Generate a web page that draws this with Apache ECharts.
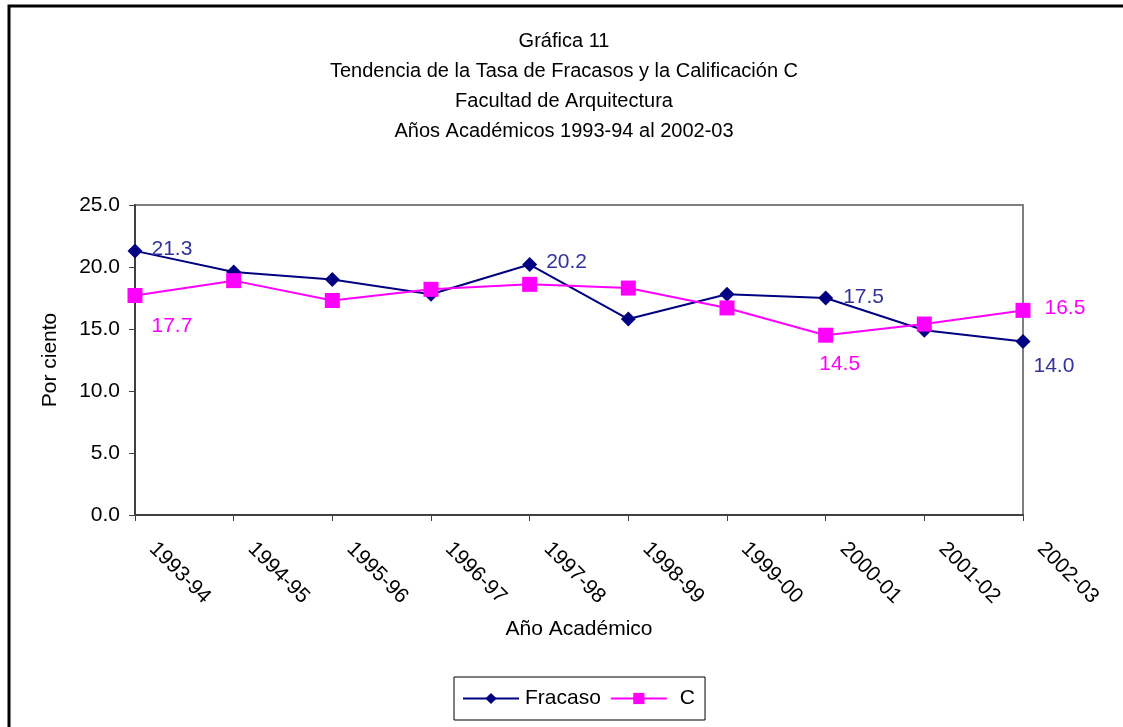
<!DOCTYPE html>
<html>
<head>
<meta charset="utf-8">
<script src="https://cdn.jsdelivr.net/npm/echarts@6/dist/echarts.min.js"></script>
<style>
  html, body { margin: 0; padding: 0; background: #fff; }
  #chart { width: 1123px; height: 727px; }
</style>
</head>
<body>
<div id="chart"></div>
<script>
// data
var years = ['1993-94', '1994-95', '1995-96', '1996-97', '1997-98', '1998-99', '1999-00', '2000-01', '2001-02', '2002-03'];
var fracaso = [21.3, 19.6, 19.0, 17.8, 20.2, 15.8, 17.8, 17.5, 14.9, 14.0];
var califC = [17.7, 18.9, 17.3, 18.2, 18.6, 18.3, 16.7, 14.5, 15.4, 16.5];
var yTicks = [0, 5, 10, 15, 20, 25];

var FONT = '"Liberation Sans", Arial, sans-serif';
var NAVY = '#000080';
var NAVY_LBL = '#333399';
var PINK = '#ff00ff';
var FS = 21;

// which points carry a value label, and where
var fracasoLabels = { 0: { position: 'right', offset: [4, -2] }, 4: { position: 'right', offset: [4, -2] },
                      7: { position: 'right', offset: [5, -1] }, 9: { position: 'right', offset: [-2, 25] } };
var cLabels = { 0: { position: 'right', offset: [4, 31] }, 7: { position: 'bottom', offset: [14, 6] },
                9: { position: 'right', offset: [9, -2] } };

function buildData(values, labels, color) {
    return values.map(function (v, i) {
        var item = { value: v };
        if (labels[i]) {
            item.label = {
                show: true, position: labels[i].position, offset: labels[i].offset,
                color: color, fontSize: FS, fontFamily: FONT,
                formatter: function (p) { return p.value.toFixed(1); }
            };
        }
        return item;
    });
}

var chart = echarts.init(document.getElementById('chart'));
chart.setOption({
    animation: false,
    backgroundColor: '#fff',
    title: {
        text: 'Gráfica 11\nTendencia de la Tasa de Fracasos y la Calificación C\nFacultad de Arquitectura\nAños Académicos 1993-94 al 2002-03',
        left: 559, top: 21, textAlign: 'center',
        textStyle: { fontFamily: FONT, fontSize: 20, fontWeight: 'normal', color: '#000', lineHeight: 30 }
    },
    graphic: [{
        type: 'rect', shape: { x: 9, y: 6, width: 1200, height: 800 },
        style: { fill: 'none', stroke: '#000', lineWidth: 3 }, silent: true
    }],
    legend: {
        top: 677, left: 454,
        data: ['Fracaso', { name: 'C', textStyle: { padding: [0, 0, 0, 8] } }],
        itemWidth: 56, itemHeight: 14, itemGap: 9,
        padding: [11, 10, 11, 8],
        borderColor: '#000', borderWidth: 1,
        textStyle: { fontFamily: FONT, fontSize: FS, color: '#000', padding: [0, 0, 0, 1] }
    },
    grid: {
        left: 135, right: 100, top: 205, bottom: 212,
        show: true, borderColor: '#808080', borderWidth: 2
    },
    xAxis: {
        type: 'category', data: years, boundaryGap: false,
        name: 'Año Académico', nameLocation: 'middle', nameGap: 104,
        nameTextStyle: { fontFamily: FONT, fontSize: FS, color: '#000' },
        axisLine: { lineStyle: { color: '#404040', width: 2 } },
        axisTick: { show: true, length: 6, alignWithLabel: true, lineStyle: { color: '#404040' } },
        axisLabel: { rotate: -45, margin: 13, padding: [0, 0, 0, 25], fontFamily: FONT, fontSize: FS,
                     color: '#000', interval: 0 },
        splitLine: { show: false }
    },
    yAxis: {
        type: 'value', min: yTicks[0], max: yTicks[yTicks.length - 1], interval: 5,
        name: 'Por ciento', nameLocation: 'middle', nameGap: 74, nameRotate: 90,
        nameTextStyle: { fontFamily: FONT, fontSize: FS, color: '#000' },
        axisLine: { show: true, lineStyle: { color: '#404040', width: 2 } },
        axisTick: { show: true, length: 6, lineStyle: { color: '#404040' } },
        axisLabel: { margin: 15, fontFamily: FONT, fontSize: FS, color: '#000',
                     formatter: function (v) { return v.toFixed(1); } },
        splitLine: { show: false }
    },
    series: [{
        name: 'Fracaso', type: 'line', data: buildData(fracaso, fracasoLabels, NAVY_LBL),
        symbol: 'diamond', symbolSize: 15,
        lineStyle: { color: NAVY, width: 2 }, itemStyle: { color: NAVY }
    }, {
        name: 'C', type: 'line', data: buildData(califC, cLabels, PINK),
        symbol: 'rect', symbolSize: 15,
        lineStyle: { color: PINK, width: 2 }, itemStyle: { color: PINK }
    }]
});
</script>
</body>
</html>
